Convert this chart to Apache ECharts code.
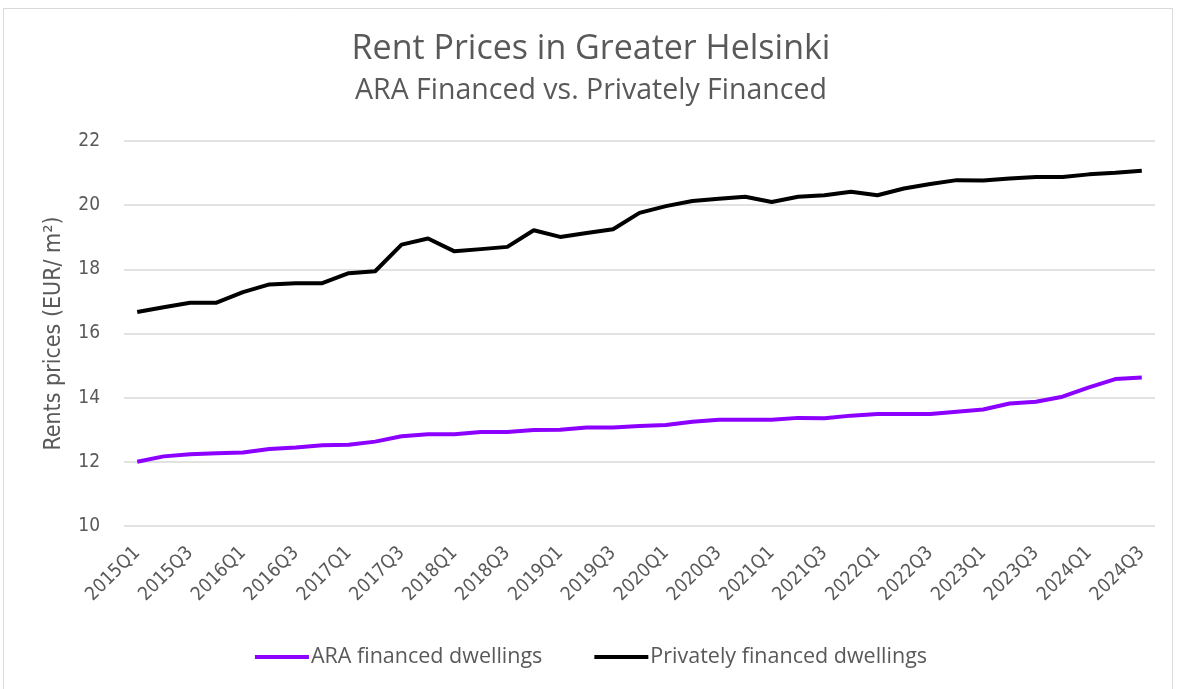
<!DOCTYPE html>
<html>
<head>
<meta charset="utf-8">
<script src="https://cdn.jsdelivr.net/npm/echarts@6/dist/echarts.min.js"></script>
<style>
  html, body { margin: 0; padding: 0; background: #fff; }
  #chart { width: 1182px; height: 689px; }
</style>
</head>
<body>
<div id="chart"></div>
<script>
  // quarters 2015Q1 .. 2024Q3
  var quarters = [
    '2015Q1', '2015Q2', '2015Q3', '2015Q4', '2016Q1', '2016Q2', '2016Q3', '2016Q4',
    '2017Q1', '2017Q2', '2017Q3', '2017Q4', '2018Q1', '2018Q2', '2018Q3', '2018Q4',
    '2019Q1', '2019Q2', '2019Q3', '2019Q4', '2020Q1', '2020Q2', '2020Q3', '2020Q4',
    '2021Q1', '2021Q2', '2021Q3', '2021Q4', '2022Q1', '2022Q2', '2022Q3', '2022Q4',
    '2023Q1', '2023Q2', '2023Q3', '2023Q4', '2024Q1', '2024Q2', '2024Q3'
  ];

  var araFinanced = [
    12.00, 12.17, 12.24, 12.27, 12.29, 12.40, 12.45, 12.52,
    12.53, 12.63, 12.80, 12.86, 12.86, 12.93, 12.93, 12.99,
    13.00, 13.07, 13.07, 13.12, 13.15, 13.25, 13.31, 13.31,
    13.31, 13.37, 13.36, 13.44, 13.49, 13.49, 13.49, 13.56,
    13.63, 13.82, 13.87, 14.03, 14.32, 14.58, 14.63
  ];

  var privatelyFinanced = [
    16.67, 16.82, 16.96, 16.96, 17.29, 17.53, 17.57, 17.57,
    17.88, 17.94, 18.77, 18.96, 18.56, 18.63, 18.70, 19.22,
    19.01, 19.13, 19.25, 19.76, 19.97, 20.13, 20.20, 20.26,
    20.10, 20.26, 20.31, 20.42, 20.31, 20.52, 20.66, 20.78,
    20.77, 20.83, 20.88, 20.88, 20.96, 21.01, 21.07
  ];

  var font = '"Open Sans", "Noto Sans", sans-serif';
  var narrow = '"Liberation Sans Narrow", "DejaVu Sans Condensed", "Liberation Sans", sans-serif';
  var grey = '#595959';

  var chart = echarts.init(document.getElementById('chart'));

  chart.setOption({
    backgroundColor: '#fff',
    animation: false,
    textStyle: { fontFamily: font, color: grey },
    graphic: [{
      type: 'rect',
      shape: { x: 3.5, y: 8.5, width: 1169, height: 690 },
      style: { fill: 'none', stroke: '#d9d9d9', lineWidth: 1 },
      silent: true
    }],
    title: {
      text: 'Rent Prices in Greater Helsinki',
      subtext: 'ARA Financed vs. Privately Financed',
      left: 'center',
      top: 27,
      itemGap: 10,
      textStyle: { fontFamily: font, fontSize: 34, fontWeight: 'normal', color: grey },
      subtextStyle: { fontFamily: font, fontSize: 28.5, color: grey }
    },
    legend: {
      bottom: 16,
      left: 'center',
      itemWidth: 54,
      itemHeight: 4,
      itemGap: 52,
      icon: 'rect',
      textStyle: { fontFamily: font, fontSize: 21.5, color: grey, padding: [0, 0, 0, -3] },
      data: ['ARA financed dwellings', 'Privately financed dwellings']
    },
    grid: { left: 124, right: 27, top: 141, bottom: 163 },
    xAxis: {
      type: 'category',
      data: quarters,
      boundaryGap: true,
      axisLine: { show: false },
      axisTick: { show: false },
      axisLabel: {
        interval: 1,
        rotate: 45,
        margin: 24,
        fontSize: 19,
        color: grey,
        fontFamily: narrow
      }
    },
    yAxis: {
      type: 'value',
      min: 10,
      max: 22,
      interval: 2,
      name: 'Rents prices (EUR/ m²)',
      nameLocation: 'middle',
      nameGap: 58,
      nameRotate: 90,
      nameTextStyle: { fontFamily: narrow, fontSize: 23, color: grey },
      axisLine: { show: false },
      axisTick: { show: false },
      axisLabel: { fontSize: 19, color: grey, fontFamily: narrow, margin: 24 },
      splitLine: { lineStyle: { color: '#d9d9d9', width: 1.5 } }
    },
    series: [
      {
        name: 'ARA financed dwellings',
        type: 'line',
        data: araFinanced,
        showSymbol: false,
        color: '#8c00ff',
        lineStyle: { width: 4, color: '#8c00ff' }
      },
      {
        name: 'Privately financed dwellings',
        type: 'line',
        data: privatelyFinanced,
        showSymbol: false,
        color: '#000000',
        lineStyle: { width: 4, color: '#000000' }
      }
    ]
  });

  window.addEventListener('resize', function () {
    chart.resize();
  });
</script>
</body>
</html>
